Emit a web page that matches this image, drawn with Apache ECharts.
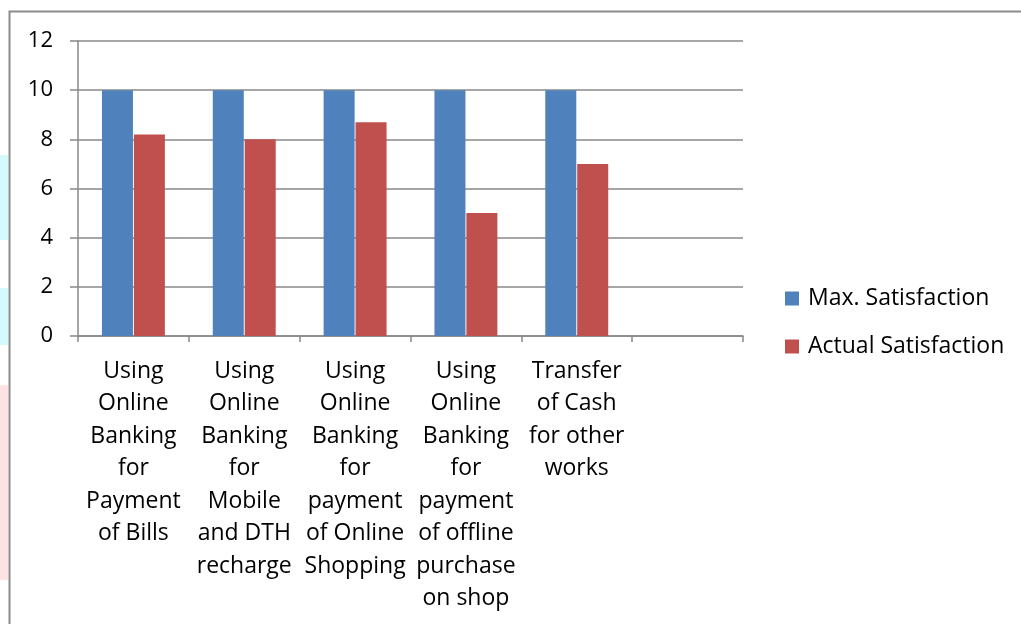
<!DOCTYPE html>
<html>
<head>
<meta charset="utf-8">
<script src="https://cdn.jsdelivr.net/npm/echarts@6/dist/echarts.min.js"></script>
<style>
html, body { margin: 0; padding: 0; background: #fff; }
#chart { width: 1021px; height: 624px; }
</style>
</head>
<body>
<div id="chart"></div>
<script>
var categories = [
    "Using\nOnline\nBanking\nfor\nPayment\nof Bills",
    "Using\nOnline\nBanking\nfor\nMobile\nand DTH\nrecharge",
    "Using\nOnline\nBanking\nfor\npayment\nof Online\nShopping",
    "Using\nOnline\nBanking\nfor\npayment\nof offline\npurchase\non shop",
    "Transfer\nof Cash\nfor other\nworks",
    ""
];
var maxSatisfaction = [10, 10, 10, 10, 10, null];
var actualSatisfaction = [8.2, 8, 8.7, 5, 7, null];
var yTicks = [0, 2, 4, 6, 8, 10, 12];

var chart = echarts.init(document.getElementById("chart"), null, { renderer: "canvas" });
var font = "'Open Sans', Lato, sans-serif";

var option = {
    animation: false,
    backgroundColor: "#ffffff",
    graphic: [
        { type: "rect", shape: { x: 0, y: 155, width: 8, height: 85 }, style: { fill: "#d4fbfc" } },
        { type: "rect", shape: { x: 0, y: 288, width: 8, height: 57 }, style: { fill: "#d4fbfc" } },
        { type: "rect", shape: { x: 0, y: 385, width: 8, height: 195 }, style: { fill: "#fde3e3" } },
        { type: "rect", shape: { x: 9.5, y: 11.5, width: 1030, height: 640 }, style: { fill: null, stroke: "#8c8c8c", lineWidth: 2 } }
    ],
    legend: {
        orient: "vertical",
        left: 785,
        top: 287,
        padding: 0,
        itemWidth: 14,
        itemHeight: 14,
        itemGap: 25,
        icon: "rect",
        textStyle: { fontFamily: font, fontSize: 23, color: "#000", padding: [0, 0, 0, 4] },
        data: ["Max. Satisfaction", "Actual Satisfaction"]
    },
    grid: { left: 78, right: 278, top: 41, bottom: 288, containLabel: false },
    xAxis: {
        type: "category",
        data: categories,
        axisLine: { lineStyle: { color: "#888", width: 1.5 } },
        axisTick: { show: true, length: 6, alignWithLabel: false, lineStyle: { color: "#888", width: 1.5 } },
        axisLabel: {
            interval: 0,
            margin: 19,
            fontFamily: font,
            fontSize: 23,
            lineHeight: 32.5,
            color: "#000",
            align: "center"
        },
        splitLine: { show: false }
    },
    yAxis: {
        type: "value",
        min: 0,
        max: 12,
        interval: 2,
        axisLine: { show: true, lineStyle: { color: "#888", width: 1.5 } },
        axisTick: { show: true, length: 8, lineStyle: { color: "#888", width: 1.5 } },
        axisLabel: {
            margin: 25,
            fontFamily: font,
            fontSize: 22,
            color: "#000",
            formatter: function (v) { return yTicks.indexOf(v) >= 0 ? String(v) : ""; }
        },
        splitLine: { show: true, lineStyle: { color: "#888", width: 1.5 } }
    },
    series: [
        {
            name: "Max. Satisfaction",
            type: "bar",
            data: maxSatisfaction,
            barWidth: 31,
            barGap: "3%",
            itemStyle: { color: "#4f81bd" }
        },
        {
            name: "Actual Satisfaction",
            type: "bar",
            data: actualSatisfaction,
            barWidth: 31,
            barGap: "3%",
            itemStyle: { color: "#c0504d" }
        }
    ]
};

chart.setOption(option);
window.onresize = function () { chart.resize(); };
</script>
</body>
</html>
